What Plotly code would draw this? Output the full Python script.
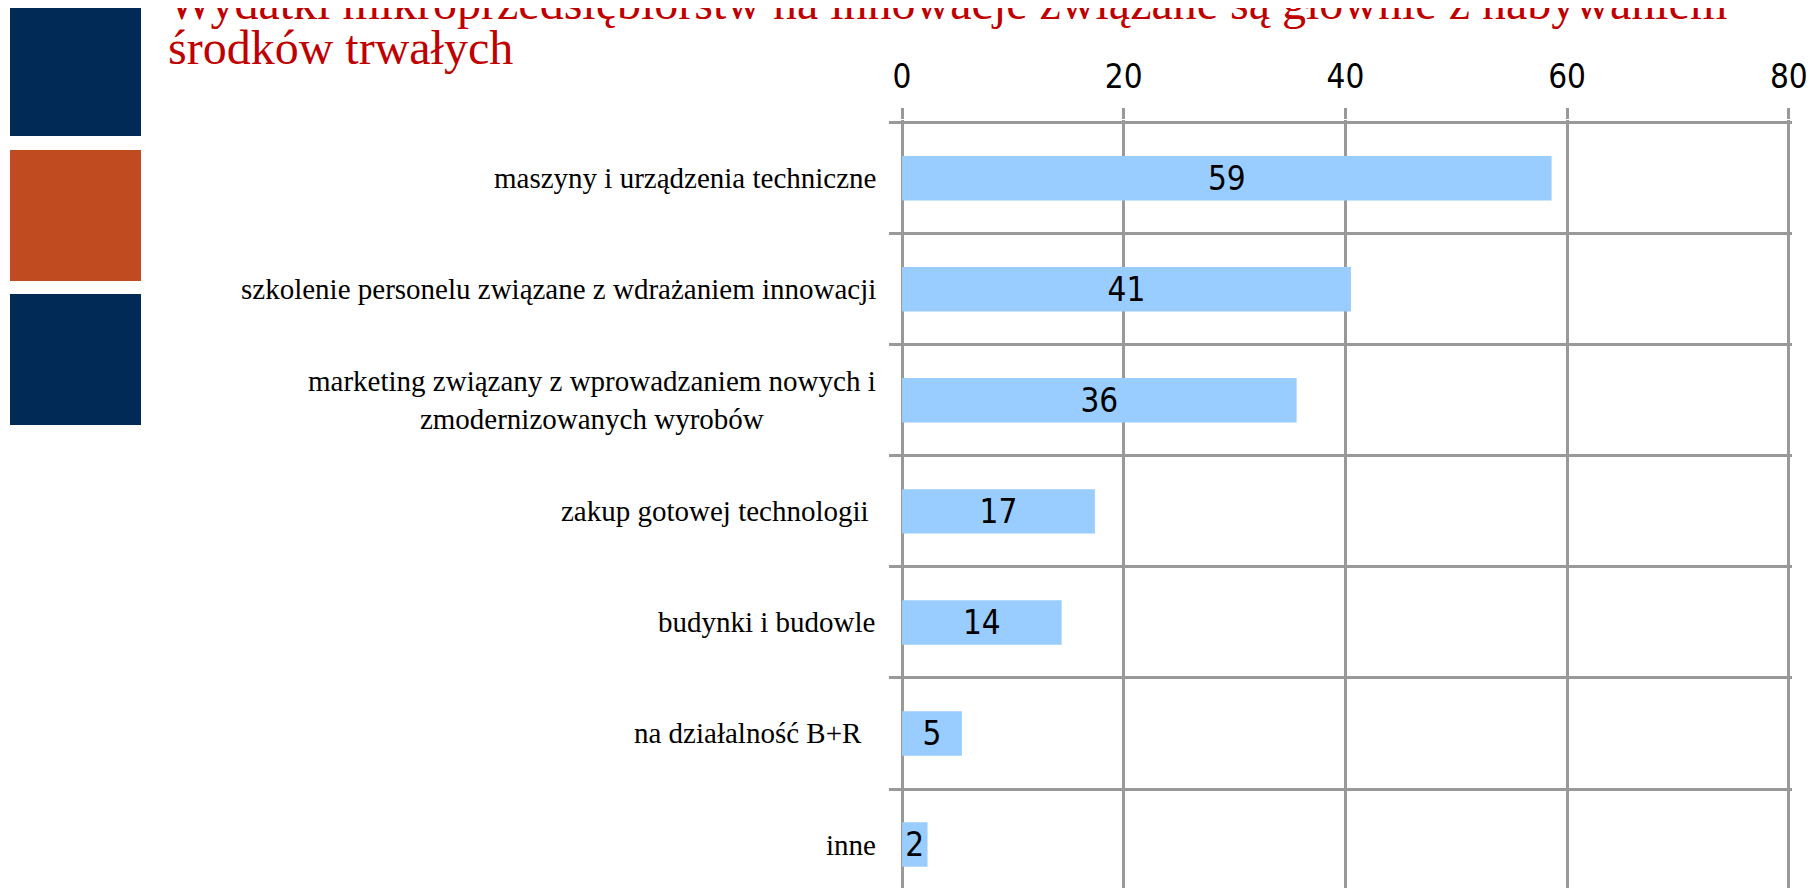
import plotly.graph_objects as go

# dane z wykresu
categories = [
    "maszyny i urządzenia techniczne",
    "szkolenie personelu związane z wdrażaniem innowacji",
    "marketing związany z wprowadzaniem nowych i<br>zmodernizowanych wyrobów",
    "zakup gotowej technologii\u00a0",
    "budynki i budowle",
    "na działalność B+R\u00a0\u00a0",
    "inne",
]
values = [58.6, 40.5, 35.6, 17.4, 14.4, 5.4, 2.3]
x_ticks = [0, 20, 40, 60, 80]

title_line1 = "Wydatki mikroprzedsiębiorstw na innowacje związane są głównie z nabywaniem"
title_line2 = "środków trwałych"

# strona html ma margines 8 px - figura mniejsza, zeby nie bylo przewijania
OFF = 8
W, H = 1818 - 2 * OFF, 896 - 2 * OFF
ML, MR, MT, MB = 894, 18, 112, 0
PW, PH = W - ML - MR, H - MT - MB

CAT_PX = 111.05          # wysokosc jednej kategorii
TOP_BOUND = 122.7 - OFF  # gorna granica pierwszej kategorii
X_PX = 11.085            # px na jednostke osi x

GRID = "#999999"
NAVY = "#012B56"
ORANGE = "#C04B21"
RED = "#C00000"
NUM_FONT = "DejaVu Sans Condensed, DejaVu Sans"


def px_x(p):
    return (p - OFF - ML) / PW


def px_y(p):
    return (H - MB - (p - OFF)) / PH


y_top = -0.5 - (TOP_BOUND - MT) / CAT_PX
y_bottom = y_top + PH / CAT_PX

fig = go.Figure()

fig.add_trace(go.Bar(
    x=values,
    y=categories,
    orientation="h",
    marker=dict(color="#99CCFF", line_width=0),
    texttemplate="%{x:.0f}",
    textposition="inside",
    insidetextanchor="middle",
    textangle=0,
    constraintext="none",
    textfont=dict(family=NUM_FONT, size=33, color="black"),
    hoverinfo="x+y",
))

# kwadraty po lewej
squares = [(6, 136, NAVY), (150, 281, ORANGE), (294, 425, NAVY)]
shapes = []
for y0, y1, col in squares:
    shapes.append(dict(type="rect", xref="paper", yref="paper",
                       x0=px_x(10), x1=px_x(141), y0=px_y(y1), y1=px_y(y0),
                       fillcolor=col, line_width=0, layer="above"))

annotations = [
    dict(x=px_x(166), y=px_y(2), xref="paper", yref="paper", text=title_line1,
         xanchor="left", yanchor="middle", showarrow=False,
         font=dict(family="Liberation Serif", size=48, color=RED)),
    dict(x=px_x(166), y=px_y(47), xref="paper", yref="paper", text=title_line2,
         xanchor="left", yanchor="middle", showarrow=False,
         font=dict(family="Liberation Serif", size=48, color=RED)),
]
# etykiety kategorii (wyśrodkowane wiersze)
for c in categories:
    annotations.append(dict(x=px_x(878), y=c, xref="paper", yref="y", text=c,
                            xanchor="right", yanchor="middle", align="center",
                            showarrow=False,
                            font=dict(family="Liberation Serif", size=29, color="black")))

fig.update_layout(
    width=W, height=H,
    margin=dict(l=ML, r=MR, t=MT, b=MB, pad=0),
    template="none",
    paper_bgcolor="white",
    plot_bgcolor="white",
    showlegend=False,
    bargap=0.6,
    shapes=shapes,
    annotations=annotations,
    xaxis=dict(
        side="top",
        range=[0, PW / X_PX],
        tickvals=x_ticks,
        showgrid=True, gridcolor=GRID, gridwidth=3,
        zeroline=True, zerolinecolor=GRID, zerolinewidth=3,
        showline=False,
        ticks="outside", ticklen=11, tickwidth=3, tickcolor=GRID,
        tickfont=dict(family=NUM_FONT, size=33, color="black"),
        ticklabelstandoff=7,
        automargin=False,
    ),
    yaxis=dict(
        type="category",
        categoryorder="array", categoryarray=categories,
        range=[y_bottom, y_top],
        tickson="boundaries",
        showgrid=True, gridcolor=GRID, gridwidth=3,
        showline=False, zeroline=False,
        ticks="outside", ticklen=12, tickwidth=3, tickcolor=GRID,
        showticklabels=False,
        automargin=False,
    ),
)

fig.write_html("out.html")
